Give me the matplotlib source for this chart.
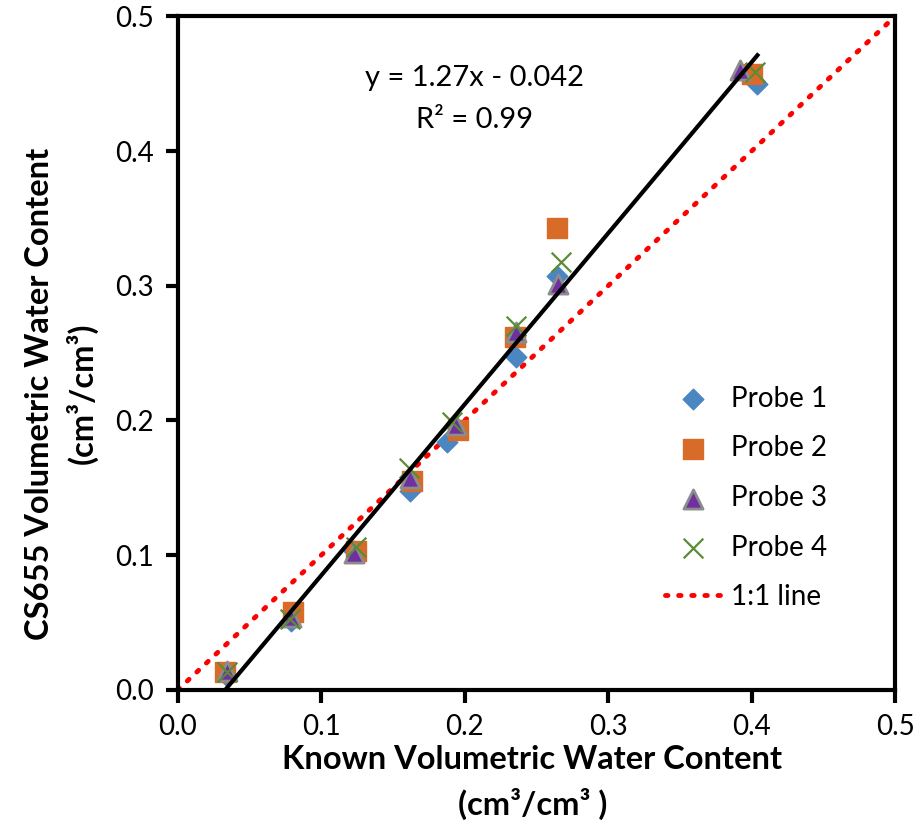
import numpy as np
import matplotlib.pyplot as plt

plt.rcParams['font.family'] = ['Lato', 'DejaVu Sans']

# known volumetric water content (x) and CS655 reading (y) per probe
known_1 = [0.034, 0.079, 0.123, 0.162, 0.188, 0.236, 0.264, 0.404]
probe_1 = [0.010, 0.051, 0.103, 0.148, 0.184, 0.247, 0.307, 0.450]
known_2 = [0.033, 0.080, 0.124, 0.163, 0.195, 0.235, 0.264, 0.400]
probe_2 = [0.013, 0.058, 0.103, 0.155, 0.193, 0.262, 0.343, 0.457]
known_3 = [0.034, 0.079, 0.123, 0.162, 0.194, 0.236, 0.265, 0.392]
probe_3 = [0.014, 0.054, 0.102, 0.157, 0.197, 0.266, 0.301, 0.460]
known_4 = [0.034, 0.078, 0.124, 0.161, 0.191, 0.236, 0.267, 0.402]
probe_4 = [0.013, 0.053, 0.106, 0.165, 0.199, 0.270, 0.318, 0.459]

slope = 1.27
intercept = -0.042
ticks = [0.0, 0.1, 0.2, 0.3, 0.4, 0.5]

fig = plt.figure(figsize=(9.17, 8.35), dpi=100)
ax = fig.add_axes([0.1938, 0.1737, 0.7824, 0.8068])

ax.scatter(known_1, probe_1, marker='D', s=110, color='#4A86C1', label='Probe 1', zorder=3)
ax.scatter(known_2, probe_2, marker='s', s=190, color='#D86B27', label='Probe 2', zorder=3)
ax.scatter(known_3, probe_3, marker='^', s=190, color='#7030A0', edgecolors='#8C8C8C',
           linewidths=2, label='Probe 3', zorder=3)
ax.scatter(known_4, probe_4, marker='x', s=200, color='#5B8C35', linewidths=1.6,
           label='Probe 4', zorder=3)

ax.plot([0, 0.5], [0, 0.5], color='red', linestyle=(0, (0.5, 2.2)), linewidth=3.5,
        dash_capstyle='round', label='1:1 line', zorder=2)

# trendline across fitted range
allx = np.concatenate([known_1, known_2, known_3, known_4])
x0 = -intercept / slope
xfit = np.array([x0, allx.max()])
ax.plot(xfit, slope * xfit + intercept, color='black', linewidth=3, zorder=4)

ax.text(0.207, 0.454, 'y = 1.27x - 0.042', fontsize=21, ha='center', va='center')
ax.text(0.207, 0.423, 'R² = 0.99', fontsize=21, ha='center', va='center')

ax.set_xlim(0, 0.5)
ax.set_ylim(0, 0.5)
ax.set_xticks(ticks)
ax.set_yticks(ticks)
ax.set_xticklabels(['%.1f' % t for t in ticks])
ax.set_yticklabels(['%.1f' % t for t in ticks])
ax.tick_params(labelsize=20, width=3, length=9, direction='out', pad=8)
for s in ax.spines.values():
    s.set_linewidth(3)

ax.set_xlabel('Known Volumetric Water Content \n(cm³/cm³ ) ', fontsize=23.5,
              fontweight='bold', labelpad=4, linespacing=1.5)
ax.set_ylabel('CS655 Volumetric Water Content\n(cm³/cm³)', fontsize=23.5,
              fontweight='bold', linespacing=1.4)
ax.yaxis.set_label_coords(-0.112, 0.44)

ax.legend(loc='center left', bbox_to_anchor=(0.645, 0.285), frameon=False, fontsize=20,
          handlelength=2.0, labelspacing=0.85, handletextpad=0.35)

plt.savefig('out.png', dpi=100)
